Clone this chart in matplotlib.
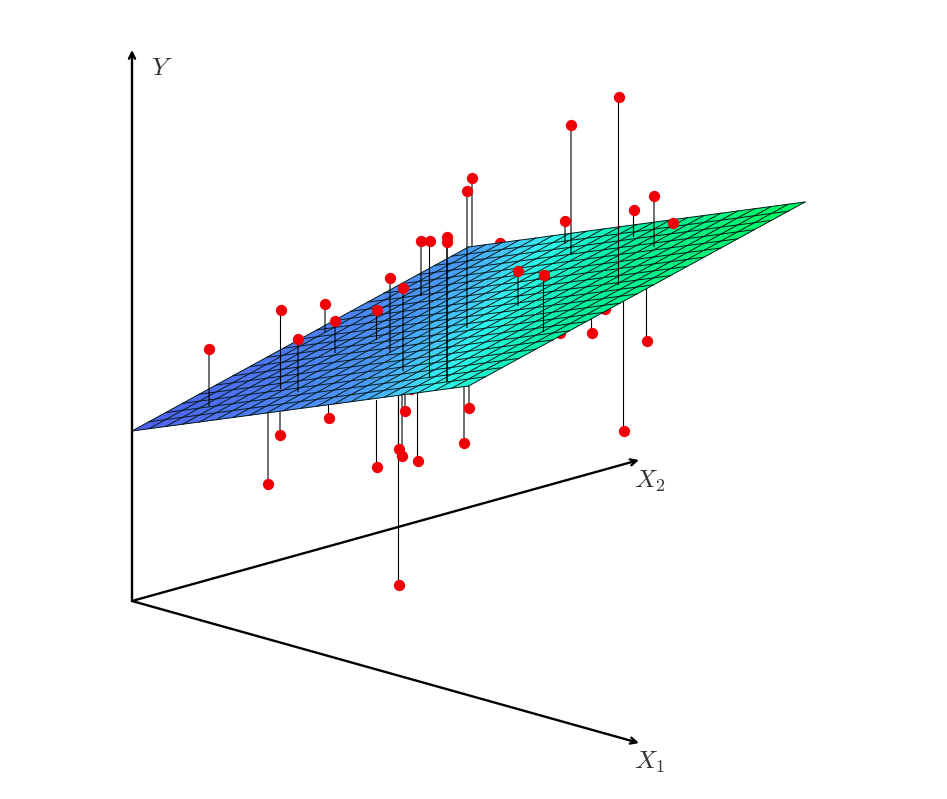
import numpy as np
import matplotlib
matplotlib.use('Agg')
import matplotlib.pyplot as plt
from matplotlib.colors import LinearSegmentedColormap

# points above the plane: position on the page and where the stem meets the plane
upper_x = [209, 280.5, 298, 325, 335, 376.5, 390, 403, 421, 429.5, 447, 447,
           467, 472, 518, 543.5, 565, 571, 618.5, 633.5, 654, 672.5]
upper_y = [349, 310, 339, 304, 321, 309.5, 278, 287.5, 241, 240.5, 237, 242,
           190.5, 177.5, 271, 274.5, 221, 124.5, 97, 209.5, 196, 222.5]
upper_foot = [406, 389, 392, 332, 353, 340, 353, 371, 296, 378, 382, 382,
              328, 246, 306, 332, 244, 255, 285, 237, 247, 229]

# points below the plane, the plane hides the top of their stems
lower_x = [268, 280, 328.5, 337, 376.5, 398.5, 398.5, 402, 405, 411, 417.5, 464, 469,
           499.5, 560, 591.5, 605, 623.5, 646.5]
lower_y = [484, 434.5, 418, 398, 467, 585, 449, 456, 410.5, 389, 460.5, 443, 407.5,
           243, 333, 332.5, 309, 430.5, 341]
lower_foot = [410, 410, 400, 395, 400, 395, 392, 392, 392, 385, 392, 385, 380,
              250, 325, 310, 305, 290, 285]

colour_stops = [(0.0, '#505cf0'), (0.39, '#4a98f8'), (0.47, '#45c4fb'), (0.55, '#2df8f0'),
                (0.7, '#00f0a0'), (1.0, '#00fb5c')]
n_cells = 20

fig = plt.figure(figsize=(9.47, 7.99), dpi=100)
ax = fig.add_axes([0, 0, 1, 1])
ax.set_xlim(0, 947)
ax.set_ylim(799, 0)
ax.axis('off')

# lower points go first so the plane covers them
stems = ax.vlines(lower_x, lower_foot, lower_y, color='k', linewidth=0.8, zorder=1)
stems.set_snap(False)
ax.scatter(lower_x, lower_y, s=66, color='#f20008', linewidths=0, zorder=2).set_snap(False)

# regression plane on a regular grid, coloured by height
g1, g2 = np.meshgrid(np.linspace(0, 1, n_cells + 1), np.linspace(0, 1, n_cells + 1))
px = 132 + 336.5 * (g1 + g2)
py = 431 - 45 * g1 - 184 * g2
height = (139.6 * g1 + 91 * g2) / 230.6
cmap = LinearSegmentedColormap.from_list('plane', colour_stops)
cells = (height[:-1, :-1] + height[1:, 1:]) / 2
ax.pcolor(px, py, cells, cmap=cmap, vmin=0, vmax=1, edgecolor='face', linewidth=0.3,
          snap=False, zorder=3)
for i in range(n_cells + 1):
    ax.plot(px[i, :], py[i, :], color='#031a18', lw=0.7, snap=False, zorder=3.1)
    ax.plot(px[:, i], py[:, i], color='#031a18', lw=0.7, snap=False, zorder=3.1)

stems = ax.vlines(upper_x, upper_foot, upper_y, color='k', linewidth=0.8, zorder=4)
stems.set_snap(False)
ax.scatter(upper_x, upper_y, s=66, color='#f20008', linewidths=0, zorder=5).set_snap(False)

# axes
for end in [(132, 50), (639, 743), (639, 460)]:
    ax.annotate('', xy=end, xytext=(132, 601), zorder=6,
                arrowprops=dict(arrowstyle='->', color='k', lw=1.7, mutation_scale=11,
                                shrinkA=0, shrinkB=0))

plt.rcParams['mathtext.fontset'] = 'cm'
ax.text(151, 75, r'$Y$', fontsize=18.5, color='#333333')
ax.text(634, 488, r'$X_2$', fontsize=18.5, color='#333333')
ax.text(634, 769, r'$X_1$', fontsize=18.5, color='#333333')

plt.savefig('out.png', dpi=100)
